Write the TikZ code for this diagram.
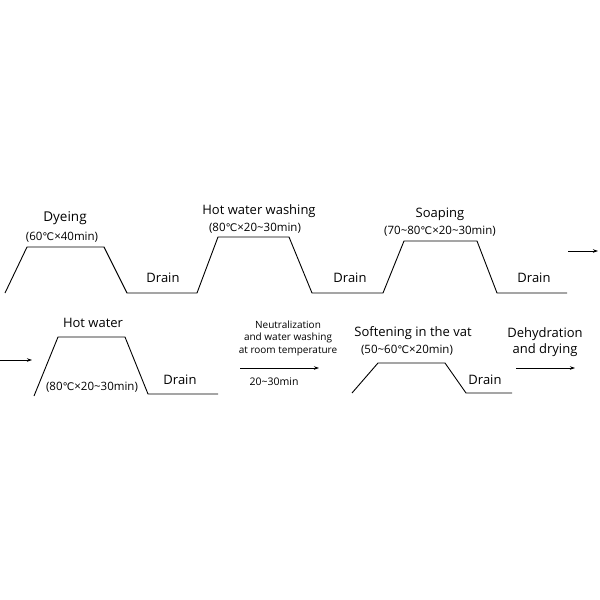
\documentclass[tikz,border=0pt]{standalone}
\usepackage{fontspec}
\setmainfont{Open Sans}
\newfontfamily\symfont{DejaVu Sans}
\newcommand{\degc}{{\symfont\fontsize{10.5}{12}\selectfont ℃}}
\tikzset{
  curve/.style={line width=0.9pt, line join=miter},
  ttl/.style={font=\fontsize{13}{15}\selectfont, inner sep=0pt},
  par/.style={font=\fontsize{11.5}{13}\selectfont, inner sep=0pt},
  small/.style={font=\fontsize{10}{12.6}\selectfont, inner sep=0pt, align=center},
  arr/.style={-{Stealth[length=5pt,width=3.5pt]}, line width=0.8pt},
}
\usetikzlibrary{arrows.meta}
\begin{document}
\begin{tikzpicture}[x=1pt,y=-1pt]
\useasboundingbox (0,0) rectangle (600,600);
% row 1
\coordinate (a0) at (5,293);
\coordinate (a1) at (27,247);
\coordinate (a2) at (104,247);
\coordinate (a3) at (127,293);
\coordinate (a4) at (197,293);
\coordinate (a5) at (218,237);
\coordinate (a6) at (289,237);
\coordinate (a7) at (312,293);
\coordinate (a8) at (383,293);
\coordinate (a9) at (404,241);
\coordinate (a10) at (477,241);
\coordinate (a11) at (497,293);
\coordinate (a12) at (567,293);
\draw[curve] (a0)--(a1)--(a2)--(a3)--(a4)--(a5)--(a6)--(a7)--(a8)--(a9)--(a10)--(a11)--(a12);
\node[ttl, font=\fontsize{13.5}{15}\selectfont] (t1) at (65,218) {Dyeing};
\node[par] (p1) at (62,237) {(60\degc×40min)};
\node[ttl] (t2) at (259,211) {Hot water washing};
\node[par] (p2) at (255,228) {(80\degc×20\char"007E 30min)};
\node[ttl] (t3) at (440,214) {Soaping};
\node[par] (p3) at (440,231) {(70\char"007E 80\degc×20\char"007E 30min)};
\node[ttl] (d1) at (163,278) {Drain};
\node[ttl] (d2) at (350,278) {Drain};
\node[ttl] (d3) at (534,278) {Drain};
\coordinate (r1s) at (568,251);
\coordinate (r1e) at (598,251);
\draw[arr] (r1s) -- (r1e);
% row 2
\coordinate (r2s) at (0,360);
\coordinate (r2e) at (32,360);
\draw[arr] (r2s) -- (r2e);
\coordinate (b0) at (34,396);
\coordinate (b1) at (58,337);
\coordinate (b2) at (125,337);
\coordinate (b3) at (148,394);
\coordinate (b4) at (218,394);
\draw[curve] (b0)--(b1)--(b2)--(b3)--(b4);
\node[ttl] (t4) at (93,323) {Hot water};
\node[par] (p4) at (92,387) {(80\degc×20\char"007E 30min)};
\node[ttl] (d4) at (180,380) {Drain};
\node[small] (n1) at (288,338) {Neutralization\\and water washing\\at room temperature};
\coordinate (m1) at (240,368);
\coordinate (m2) at (319,368);
\draw[arr] (m1) -- (m2);
\node[small, font=\fontsize{10.5}{12}\selectfont] (n2) at (274,382) {20\char"007E 30min};
\coordinate (c0) at (352,393);
\coordinate (c1) at (378,363);
\coordinate (c2) at (445,363);
\coordinate (c3) at (466,393);
\coordinate (c4) at (512,393);
\draw[curve] (c0)--(c1)--(c2)--(c3)--(c4);
\node[ttl] (t5) at (413,333) {Softening in the vat};
\node[par] (p5) at (407,350) {(50\char"007E 60\degc×20min)};
\node[ttl] (d5) at (485,380) {Drain};
\node[ttl, align=center, font=\fontsize{13}{15.5}\selectfont] (t6) at (545,342) {Dehydration\\and drying};
\coordinate (e1) at (516,368);
\coordinate (e2) at (575,368);
\draw[arr] (e1) -- (e2);
\end{tikzpicture}
\end{document}
